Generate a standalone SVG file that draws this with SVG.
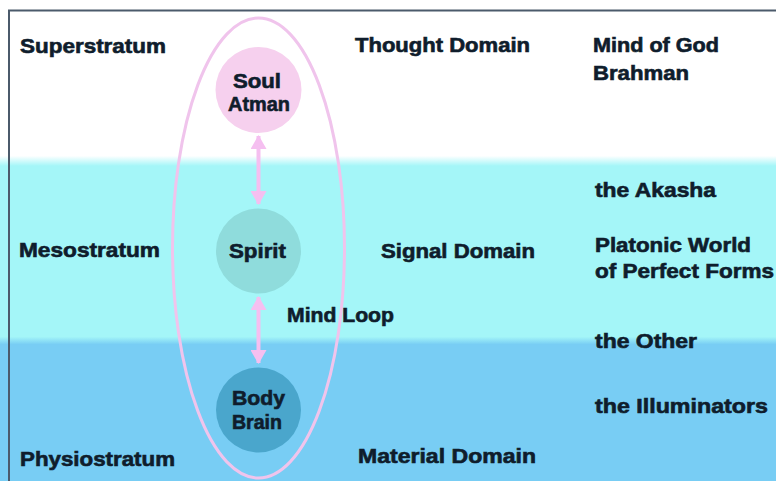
<svg xmlns="http://www.w3.org/2000/svg" width="776" height="481" viewBox="0 0 776 481">
<defs>
<linearGradient id="bg" x1="0" y1="0" x2="0" y2="481" gradientUnits="userSpaceOnUse">
<stop offset="0" stop-color="#ffffff"/>
<stop offset="0.324" stop-color="#ffffff"/>
<stop offset="0.345" stop-color="#a4f6f8"/>
<stop offset="0.700" stop-color="#a4f6f8"/>
<stop offset="0.716" stop-color="#78cdf4"/>
<stop offset="1" stop-color="#78cdf4"/>
</linearGradient>
<marker id="ah" viewBox="0 0 14 16" refX="13" refY="8" markerWidth="14" markerHeight="16" markerUnits="userSpaceOnUse" orient="auto-start-reverse">
<path d="M0,0 L14,8 L0,16 Z" fill="#f5bff0"/>
</marker>
<style>
text{font-family:"Liberation Sans",Arial,sans-serif;font-weight:bold;font-size:19.5px;fill:#0f1d2c;stroke:#0f1d2c;stroke-width:0.6}
.conn{stroke:#f5bff0;stroke-width:4;fill:none}
</style>
</defs>
<rect x="0" y="0" width="776" height="481" fill="url(#bg)"/>
<path d="M9,481 V10.5 H776" fill="none" stroke="#4b5a6b" stroke-width="2"/>

<g id="loop">
<ellipse cx="258.5" cy="248" rx="86" ry="230" fill="none" stroke="#f0c4ec" stroke-width="3"/>
</g>

<g id="connectors">
<line class="conn" x1="258.5" y1="136" x2="258.5" y2="204" marker-start="url(#ah)" marker-end="url(#ah)"/>
<line class="conn" x1="258.5" y1="297" x2="258.5" y2="363" marker-start="url(#ah)" marker-end="url(#ah)"/>
</g>

<g id="soul" class="node">
<circle cx="258.5" cy="90" r="43" fill="#f6d0ee"/>
<text x="233" y="88" textLength="48" lengthAdjust="spacingAndGlyphs">Soul</text>
<text x="228" y="111" textLength="62" lengthAdjust="spacingAndGlyphs">Atman</text>
</g>
<g id="spirit" class="node">
<circle cx="258.5" cy="251" r="42.5" fill="#8fdcdc"/>
<text x="229" y="258" textLength="57" lengthAdjust="spacingAndGlyphs">Spirit</text>
</g>
<g id="body" class="node">
<circle cx="258.5" cy="410" r="42.5" fill="#4aa6cc"/>
<text x="232" y="405" textLength="53" lengthAdjust="spacingAndGlyphs">Body</text>
<text x="232" y="429" textLength="50" lengthAdjust="spacingAndGlyphs">Brain</text>
</g>

<g id="labels">
<text x="20" y="53" textLength="146" lengthAdjust="spacingAndGlyphs">Superstratum</text>
<text x="19" y="257" textLength="141" lengthAdjust="spacingAndGlyphs">Mesostratum</text>
<text x="20" y="466" textLength="155" lengthAdjust="spacingAndGlyphs">Physiostratum</text>
<text x="355" y="52" textLength="175" lengthAdjust="spacingAndGlyphs">Thought Domain</text>
<text x="381" y="258" textLength="154" lengthAdjust="spacingAndGlyphs">Signal Domain</text>
<text x="358" y="463" textLength="178" lengthAdjust="spacingAndGlyphs">Material Domain</text>
<text x="287" y="322" textLength="107" lengthAdjust="spacingAndGlyphs">Mind Loop</text>
<text x="593" y="52" textLength="126" lengthAdjust="spacingAndGlyphs">Mind of God</text>
<text x="593" y="80" textLength="96" lengthAdjust="spacingAndGlyphs">Brahman</text>
<text x="595" y="197" textLength="121" lengthAdjust="spacingAndGlyphs">the Akasha</text>
<text x="595" y="252" textLength="156" lengthAdjust="spacingAndGlyphs">Platonic World</text>
<text x="595" y="278" textLength="179" lengthAdjust="spacingAndGlyphs">of Perfect Forms</text>
<text x="595" y="348" textLength="102" lengthAdjust="spacingAndGlyphs">the Other</text>
<text x="595" y="413" textLength="173" lengthAdjust="spacingAndGlyphs">the Illuminators</text>
</g>
</svg>
